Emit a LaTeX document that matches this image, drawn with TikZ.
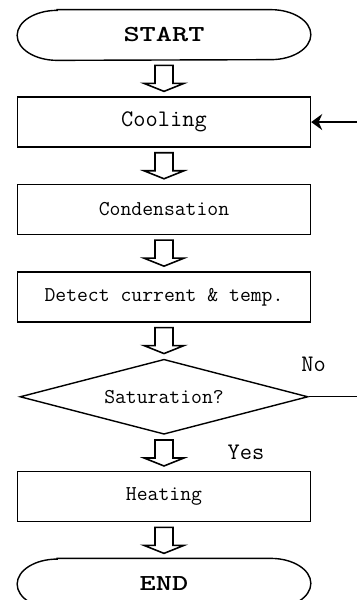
\documentclass[tikz,border=0pt]{standalone}
\usepackage{fontspec}
\usetikzlibrary{arrows.meta,shapes,positioning,calc}

% hollow block arrow between two stacked nodes
\newcommand{\hollowarrow}[2]{%
  \draw[hollow] let \p1=($(#1.south)!0.5!(#2.north)$) in
    (\x1-0.18cm,\y1+0.26cm) -- (\x1+0.18cm,\y1+0.26cm) -- (\x1+0.18cm,\y1-0.10cm)
    -- (\x1+0.40cm,\y1-0.10cm) -- (\x1,\y1-0.26cm) -- (\x1-0.40cm,\y1-0.10cm)
    -- (\x1-0.18cm,\y1-0.10cm) -- cycle;}

% oval frame of a terminal node
\newcommand{\terminalframe}[1]{%
  \draw[frame] ([xshift=0.8cm]#1.north west) -- ([xshift=-0.8cm]#1.north east)
    arc[start angle=90, end angle=-90, x radius=0.8cm, y radius=0.5cm]
    -- ([xshift=0.8cm]#1.south west)
    arc[start angle=270, end angle=90, x radius=0.8cm, y radius=0.5cm] -- cycle;}

\begin{document}
\begin{tikzpicture}[
    frame/.style={line width=0.8pt},
    terminal/.style={rectangle, minimum width=5.86cm, minimum height=1cm, font=\ttfamily\bfseries\fontsize{13}{15}\selectfont},
    process/.style={draw, frame, rectangle, minimum width=5.86cm, minimum height=1cm, font=\ttfamily\fontsize{12}{14}\selectfont},
    decision/.style={draw, frame, diamond, aspect=3.84, minimum width=5.76cm, minimum height=1.5cm, inner sep=0pt, font=\ttfamily\fontsize{12}{14}\selectfont},
    hollow/.style={line width=0.9pt, line join=miter},
    arrow/.style={-{Stealth[length=2.2mm, width=3.2mm]}, frame},
    tag/.style={font=\ttfamily\fontsize{13.5}{15}\selectfont},
    node distance=0.72cm
]
    \useasboundingbox (0,0) rectangle (7.14,-12);

    \node [terminal] (start) at (3.28,-0.70) {\scalebox{1.35}[1]{START}};
    \node [process, below=of start, font=\ttfamily\fontsize{13.5}{15}\selectfont] (cool) {Cooling};
    \node [process, below=of cool] (cond) {Condensation};
    \node [process, below=of cond] (detect) {Detect current \& temp.};
    \node [decision, below=of detect] (sat) {Saturation?};
    \node [process, below=of sat] (heat) {Heating};
    \node [terminal, below=of heat] (end) {\scalebox{1.35}[1]{END}};

    \terminalframe{start}
    \terminalframe{end}

    \hollowarrow{start}{cool}
    \hollowarrow{cool}{cond}
    \hollowarrow{cond}{detect}
    \hollowarrow{detect}{sat}
    \hollowarrow{sat}{heat}
    \hollowarrow{heat}{end}

    \node [tag] (no) at ([xshift=0.1cm, yshift=0.64cm]sat.east) {No};
    \node [tag] (yes) at ([xshift=1.64cm, yshift=-0.34cm]sat.south) {Yes};

    \coordinate (rim) at (7.14,0);
    \coordinate (loopin) at (cool.east -| rim);
    \coordinate (noout) at (sat.east -| rim);

    \draw [arrow] (loopin) -- (cool.east);
    \draw [frame] (sat.east) -- (noout);

\end{tikzpicture}
\end{document}
